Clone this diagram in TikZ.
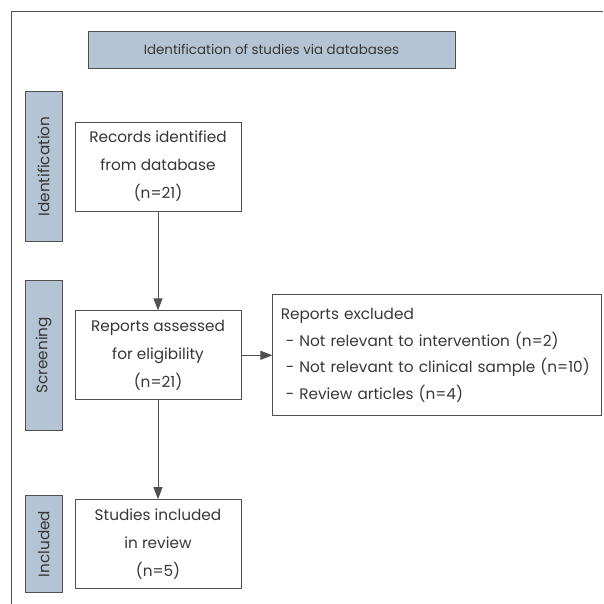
\documentclass[tikz,border=0pt]{standalone}
\usepackage{fontspec}
\setmainfont{Poppins}
\usetikzlibrary{arrows.meta,positioning}
\definecolor{barblue}{RGB}{180,196,212}
\definecolor{linegray}{RGB}{80,80,80}
\definecolor{textgray}{RGB}{55,55,55}

\begin{document}
\begin{tikzpicture}[
  x=1pt,y=-1pt,
  node distance=99pt and 31pt,
  box/.style={rectangle,draw=linegray,fill=white,line width=0.8pt,
              minimum width=166pt,minimum height=89pt,inner sep=0pt,
              text=textgray,font=\fontsize{15.3}{28}\selectfont,align=center},
  exbox/.style={rectangle,draw=linegray,line width=0.8pt,
                minimum width=329pt,minimum height=121pt,inner sep=8pt,
                text width=313pt,text=textgray,
                font=\fontsize{15.3}{26.5}\selectfont,align=left},
  bar/.style={rectangle,draw=linegray,fill=barblue,line width=0.8pt,
              minimum width=37pt,inner sep=0pt,
              text=textgray,font=\fontsize{15.3}{16}\selectfont},
  head/.style={rectangle,draw=linegray,fill=barblue,line width=0.8pt,
               minimum width=367pt,minimum height=37pt,
               text=textgray,font=\fontsize{13.4}{15}\selectfont},
  arr/.style={-{Triangle[length=12pt,width=9pt]},linegray,line width=0.8pt},
]
\useasboundingbox (0,0) rectangle (603,604);

\node[box] (rec) at (158,166.5) {Records identified\\from database\\(n=21)};
\node[box,below=of rec] (scr) {Reports assessed\\for eligibility\\(n=21)};
\node[box,below=of scr] (inc) {Studies included\\in review\\(n=5)};
\node[exbox,right=of scr] (exc) {Reports excluded\\
  \hspace*{5pt}- Not relevant to intervention (n=2)\\
  \hspace*{5pt}- Not relevant to clinical sample (n=10)\\
  \hspace*{5pt}- Review articles (n=4)};
\node[head,above=53pt of rec,xshift=113.5pt] (title) {Identification of studies via databases};

\node[bar,minimum height=150pt,left=12pt of rec] (idbar) {\rotatebox{90}{Identification}};
\node[bar,minimum height=150pt,left=12pt of scr] (scbar) {\rotatebox{90}{Screening}};
\node[bar,minimum height=97pt,left=12pt of inc] (inbar) {\rotatebox{90}{Included}};

\coordinate (fbl) at (11,604);
\coordinate (ftr) at (603,12);
\draw[linegray,line width=1pt] (fbl) |- (ftr);

\draw[arr] (rec) -- (scr);
\draw[arr] (scr) -- (inc);
\draw[arr] (scr) -- (exc);

\end{tikzpicture}
\end{document}
